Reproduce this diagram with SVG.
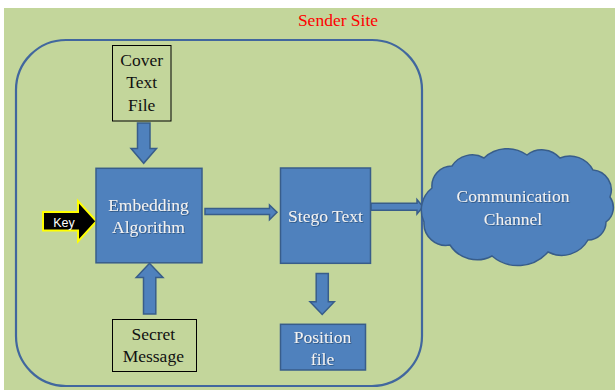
<svg xmlns="http://www.w3.org/2000/svg" width="615" height="390" viewBox="0 0 615 390">
  <defs>
    <filter id="sh" x="-10%" y="-10%" width="130%" height="140%">
      <feDropShadow dx="0.8" dy="0.8" stdDeviation="0.4" flood-color="#1f3a60" flood-opacity="0.7"/>
    </filter>
  </defs>
  <style>
    .blue { fill: #4f81bd; stroke: #385d8a; stroke-width: 1.5; }
    .plain { fill: none; stroke: #000; stroke-width: 1; }
    .t { font-family: "Liberation Serif", "Times New Roman", serif; font-size: 17.5px; text-anchor: middle; }
    .dark { fill: #111; }
    .light { fill: #f2f2f2; filter: url(#sh); }
  </style>
  <rect x="0" y="0" width="615" height="390" fill="#ffffff"/>
  <rect x="4" y="8" width="611" height="382" fill="#c3d69b"/>

  <g id="sender-site">
    <rect x="16" y="40" width="406" height="346" rx="50" ry="50" fill="none" stroke="#41679e" stroke-width="2.2"/>
    <text class="t" x="338" y="26" fill="#ff0000">Sender Site</text>
  </g>

  <g id="connectors">
    <polygon class="blue" points="137.5,123 150,123 150,148.5 156.5,148.5 143.7,163.3 131,148.5 137.5,148.5"/>
    <polygon class="blue" points="143.5,314 155.8,314 155.8,277.5 163,277.5 149.5,263.3 136.2,277.5 143.5,277.5"/>
    <polygon class="blue" points="205,208.5 269.5,208.5 269.5,205 277,212.3 269.5,219.8 269.5,214.5 205,214.5"/>
    <polygon class="blue" points="371,203.3 417,203.3 417,199.5 423,206.8 417,214 417,210.3 371,210.3"/>
    <polygon class="blue" points="316.2,273.5 328.3,273.5 328.3,301.7 334.3,301.7 322.2,314.5 310,301.7 316.2,301.7"/>
  </g>

  <g id="key">
    <polygon points="43,212 78,212 78,201 96.5,221.3 78,241.5 78,230.5 43,230.5" fill="#000" stroke="#ffff00" stroke-width="2" stroke-linejoin="miter"/>
    <text x="64" y="226.5" font-family="'Liberation Sans', Arial, sans-serif" font-size="12.5" fill="#ffffff" text-anchor="middle">Key</text>
  </g>

  <g id="cover-text-file">
    <rect class="plain" x="112.5" y="45.5" width="58.5" height="75.5"/>
    <text class="t dark" x="141.7" y="66">Cover</text>
    <text class="t dark" x="141.7" y="88.3">Text</text>
    <text class="t dark" x="141.7" y="110.6">File</text>
  </g>

  <g id="embedding-algorithm">
    <rect class="blue" x="96" y="168.3" width="106" height="94.5"/>
    <text class="t light" x="148.5" y="211">Embedding</text>
    <text class="t light" x="148.5" y="233">Algorithm</text>
  </g>

  <g id="stego-text">
    <rect class="blue" x="280.5" y="168" width="90" height="95.3"/>
    <text class="t light" x="325.5" y="221.5">Stego Text</text>
  </g>

  <g id="secret-message">
    <rect class="plain" x="112.5" y="319.5" width="84" height="52"/>
    <text class="t dark" x="153.3" y="340">Secret</text>
    <text class="t dark" x="153.3" y="362.3">Message</text>
  </g>

  <g id="position-file">
    <rect class="blue" x="280.5" y="324.3" width="85" height="45.7"/>
    <text class="t light" x="322.5" y="342.7">Position</text>
    <text class="t light" x="322.5" y="364.5">file</text>
  </g>

  <g id="communication-channel">
    <path class="blue" d="M424,222 A28,28 0 0,1 432,188 A20,20 0 0,1 452,166 A24,24 0 0,1 484,158 A34,34 0 0,1 527,155 A24,24 0 0,1 560,158 A26,26 0 0,1 593,170 A20,20 0 0,1 610,197 A18,18 0 0,1 606,222 A18,18 0 0,1 588,240 A30,30 0 0,1 548,252 A40,40 0 0,1 492,256 A32,32 0 0,1 450,245 A22,22 0 0,1 424,222 Z"/>
    <text class="t light" x="513" y="202.3">Communication</text>
    <text class="t light" x="513" y="225">Channel</text>
  </g>
</svg>
